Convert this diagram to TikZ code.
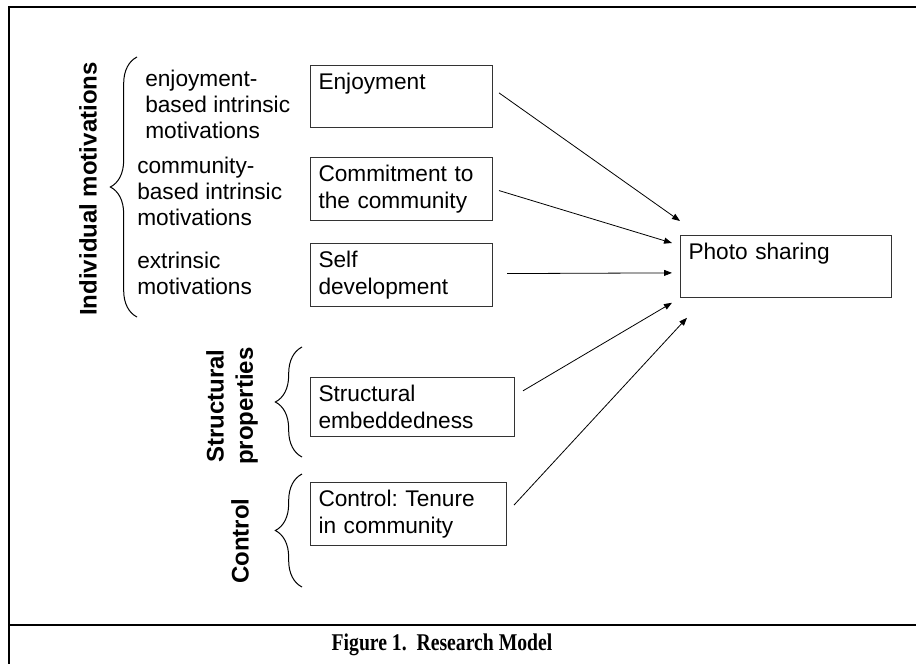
\documentclass[tikz,border=0pt]{standalone}
\usepackage{fontspec}
\setmainfont{Liberation Sans}
\newfontfamily\capfont{Liberation Serif}
\usetikzlibrary{arrows.meta,decorations.pathreplacing}

\tikzset{
  box/.style={draw=black!80, line width=0.75pt, anchor=north west, inner xsep=6pt,
    inner ysep=5.5pt, align=left, font=\fontsize{17}{20.5}\selectfont},
  lab/.style={anchor=north west, inner sep=0pt, align=left,
    font=\fontsize{17}{19.5}\selectfont},
  group/.style={rotate=90, align=center, inner sep=0pt,
    font=\fontsize{18}{22}\selectfont\bfseries},
  curly/.style={decorate, decoration={brace, amplitude=20pt}, line width=0.75pt},
  link/.style={-{Triangle[length=6pt,width=4.5pt]}, line width=0.6pt},
}

\begin{document}
\begin{tikzpicture}[x=0.75pt,y=-0.75pt]
\useasboundingbox (0,0) rectangle (916,664);

%Frame
\draw[line width=1.2pt] (916,7) -- (9,7) -- (9,664);
\draw[line width=1.2pt] (9,625) -- (916,625);

%Group labels
\node[group] (indiv) at (88,189) {Individual motivations};
\node[group] (strprop) at (232,406) {Structural\\properties};
\node[group] (ctrl) at (240,541) {Control};

%Braces
\draw[curly] (137,317) -- (137,57);
\draw[curly] (302,457) -- (302,347);
\draw[curly] (302,587) -- (302,474);

%Motivation labels
\node[lab] (enjlab) at (145,70) {enjoyment-\\based intrinsic\\motivations};
\node[lab] (comlab) at (137,157) {community-\\based intrinsic\\motivations};
\node[lab] (extlab) at (137,252) {extrinsic\\motivations};

%Boxes
\node[box, text width=124.5pt, text depth=23pt] (enjoy) at (310,65) {Enjoyment};
\node[box, text width=124.5pt] (commit) at (310,157) {Commitment to\\the community};
\node[box, text width=124.5pt] (self) at (310,243) {Self\\development};
\node[box, text width=141pt] (embed) at (310,377) {Structural\\embeddedness};
\node[box, text width=135pt] (tenure) at (310,482) {Control:\ Tenure\\in community};

%Photo sharing
\node[box, text width=146.25pt, text depth=23pt] (photo) at (680,235) {Photo sharing};

\draw[link] ([shift={(6,-3.5)}]enjoy.east) -- ([shift={(0,-14)}]photo.north west);
\draw[link] ([shift={(6,1.5)}]commit.east) -- ([shift={(-8,8)}]photo.north west);
\draw[link] ([shift={(14,-1.5)}]self.east) -- ([shift={(-8,6.5)}]photo.west);
\draw[link] ([shift={(8,-16)}]embed.east) -- ([shift={(-8,5)}]photo.south west);
\draw[link] ([shift={(7,-9)}]tenure.east) -- ([shift={(7,20)}]photo.south west);

%Caption
\node[font=\capfont\bfseries\fontsize{18}{22}\selectfont, xscale=0.82] (cap) at (442,645)
  {Figure 1.\ \ Research Model};

\end{tikzpicture}
\end{document}
